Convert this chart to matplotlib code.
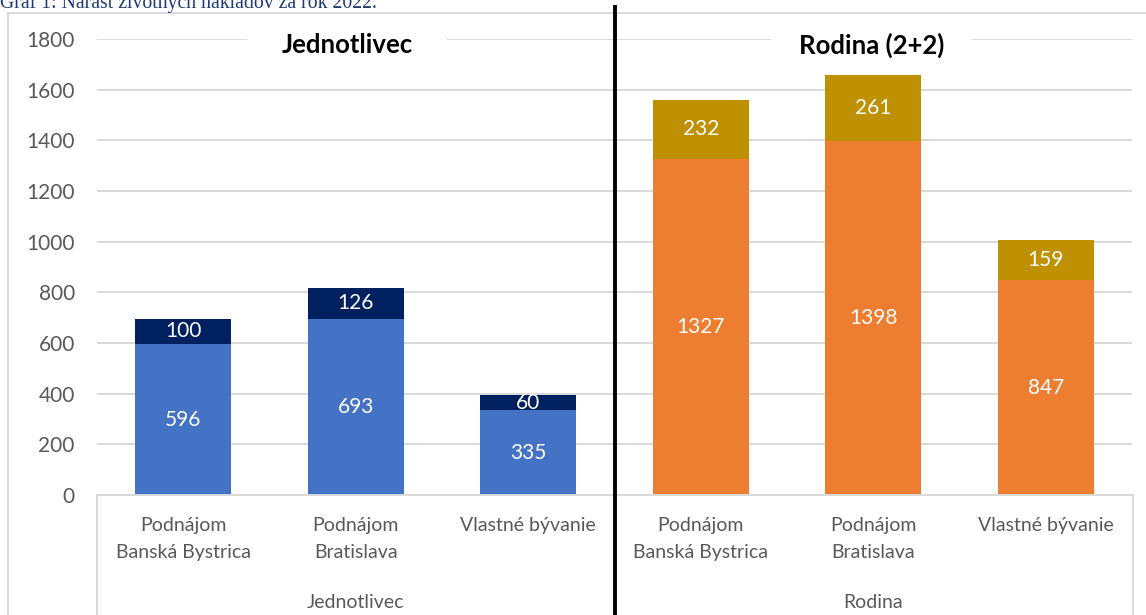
import numpy as np
import matplotlib.pyplot as plt
from matplotlib.patches import Rectangle
from matplotlib.lines import Line2D

plt.switch_backend('Agg')

# data
categories = ['Podnájom\nBanská Bystrica', 'Podnájom\nBratislava', 'Vlastné bývanie']
groups = ['Jednotlivec', 'Rodina']
group_titles = ['Jednotlivec', 'Rodina (2+2)']
single_base = [596, 693, 335]
single_add = [100, 126, 60]
family_base = [1327, 1398, 847]
family_add = [232, 261, 159]
yticks = [0, 200, 400, 600, 800, 1000, 1200, 1400, 1600, 1800]
title = 'Graf 1: Nárast životných nákladov za rok 2022.'

W, H = 1146, 615
GRID = '#D9D9D9'
TXT = '#595959'
FONT = 'Lato'

fig = plt.figure(figsize=(W / 100, H / 100), dpi=100)
ax = fig.add_axes([97 / W, 1 - 495 / H, (1132 - 97) / W, (495 - 39) / H])

x = np.arange(len(categories) * len(groups))
xs, xf = x[:3], x[3:]
bw = 0.556

b1 = ax.bar(xs, single_base, bw, color='#4472C4', zorder=2)
b2 = ax.bar(xs, single_add, bw, bottom=single_base, color='#002060', zorder=2)
b3 = ax.bar(xf, family_base, bw, color='#ED7D31', zorder=2)
b4 = ax.bar(xf, family_add, bw, bottom=family_base, color='#BF9000', zorder=2)
for c in (b1, b2, b3, b4):
    ax.bar_label(c, label_type='center', color='white', fontsize=15, family=FONT)

ax.set_xlim(-0.5, len(x) - 0.5)
ax.set_ylim(0, 1800)
ax.set_yticks(yticks)
ax.set_xticks(x, categories * 2)
ax.tick_params(axis='y', length=0, pad=16, labelsize=15, labelcolor=TXT)
ax.tick_params(axis='x', length=0, pad=16, labelsize=14, labelcolor=TXT)
for lab in ax.get_xticklabels() + ax.get_yticklabels():
    lab.set_family(FONT)
for lab in ax.get_xticklabels():
    lab.set_linespacing(1.7)
ax.yaxis.grid(True, color=GRID, lw=1.4)
ax.set_axisbelow(True)
for s in ['left', 'right', 'top']:
    ax.spines[s].set_visible(False)
ax.spines['bottom'].set_color(GRID)
ax.spines['bottom'].set_linewidth(1.4)

# group labels below the category labels
for i, g in enumerate(groups):
    ax.text(i * 3 + 1, -0.235, g, transform=ax.get_xaxis_transform(),
            ha='center', va='center', fontsize=14, color=TXT, family=FONT)

# group titles in white boxes over the top gridline
for (x0, x1), xpos, t in zip([(0.37, 1.53), (3.41, 4.57)], [0.95, 3.99], group_titles):
    ax.add_patch(Rectangle((x0, 1740), x1 - x0, 100, fc='white', ec='none',
                           zorder=1, clip_on=False))
    ax.text(xpos, 1776, t, ha='center', va='center', fontsize=18.5, fontweight='bold',
            family=FONT, color='black', zorder=3)

# category axis box lines
for px in [97, 614.5, 1133]:
    fig.add_artist(Line2D([px / W] * 2, [0, 1 - 495 / H], transform=fig.transFigure,
                          color=GRID, lw=1.4))

# outer chart border
fig.add_artist(Rectangle((8 / W, -0.1), 1.2, 1 - 13 / H + 0.1, transform=fig.transFigure,
                         fill=False, ec=GRID, lw=1.4))

# separator line
fig.add_artist(Line2D([614.5 / W] * 2, [0, 1 - 7 / H], transform=fig.transFigure,
                      color='black', lw=2.8))

fig.text(0, 1 - 8 / H, title, ha='left', va='baseline', fontsize=14.2,
         family='Liberation Serif', color='#1F3A73')

fig.savefig('out.png', dpi=100)
